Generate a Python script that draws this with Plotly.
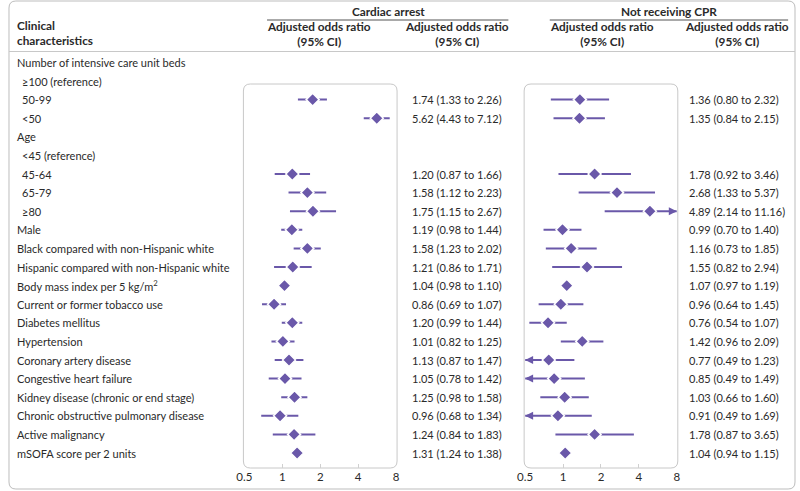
import math
import plotly.graph_objects as go

W, H = 800, 491

labels = ["Number of intensive care unit beds", "≥100 (reference)", "50-99", "<50", "Age",
          "<45 (reference)", "45-64", "65-79", "≥80", "Male",
          "Black compared with non-Hispanic white", "Hispanic compared with non-Hispanic white",
          "Body mass index per 5 kg/m<sup>2</sup>", "Current or former tobacco use",
          "Diabetes mellitus", "Hypertension", "Coronary artery disease",
          "Congestive heart failure", "Kidney disease (chronic or end stage)",
          "Chronic obstructive pulmonary disease", "Active malignancy", "mSOFA score per 2 units"]
indent = [0, 1, 1, 1, 0, 1, 1, 1, 1, 0, 0, 0, 0, 0, 0, 0, 0, 0, 0, 0, 0, 0]

ca_or = [None, None, 1.74, 5.62, None, None, 1.20, 1.58, 1.75, 1.19, 1.58, 1.21, 1.04, 0.86,
         1.20, 1.01, 1.13, 1.05, 1.25, 0.96, 1.24, 1.31]
ca_lo = [None, None, 1.33, 4.43, None, None, 0.87, 1.12, 1.15, 0.98, 1.23, 0.86, 0.98, 0.69,
         0.99, 0.82, 0.87, 0.78, 0.98, 0.68, 0.84, 1.24]
ca_hi = [None, None, 2.26, 7.12, None, None, 1.66, 2.23, 2.67, 1.44, 2.02, 1.71, 1.10, 1.07,
         1.44, 1.25, 1.47, 1.42, 1.58, 1.34, 1.83, 1.38]

cpr_or = [None, None, 1.36, 1.35, None, None, 1.78, 2.68, 4.89, 0.99, 1.16, 1.55, 1.07, 0.96,
          0.76, 1.42, 0.77, 0.85, 1.03, 0.91, 1.78, 1.04]
cpr_lo = [None, None, 0.80, 0.84, None, None, 0.92, 1.33, 2.14, 0.70, 0.73, 0.82, 0.97, 0.64,
          0.54, 0.96, 0.49, 0.49, 0.66, 0.49, 0.87, 0.94]
cpr_hi = [None, None, 2.32, 2.15, None, None, 3.46, 5.37, 11.16, 1.40, 1.85, 2.94, 1.19, 1.45,
          1.07, 2.09, 1.23, 1.49, 1.60, 1.69, 3.65, 1.15]

tick_vals = [0.5, 1, 2, 4, 8]
tick_text = ["0.5", "1", "2", "4", "8"]
x_min, x_max = 0.5, 8

PURPLE = "#6a58a9"
TEXT = "#2a2a2a"
GREY = "#c8c8c8"
FONT = "Lato, 'Open Sans', sans-serif"
FS = 11
FSH = 11.8

# pixel layout helpers
ROW0, ROWH = 62.4, 18.6
BOX_TOP, BOX_BOT = 84, 468


def px(x):
    return x / W


def py(y):
    return 1 - y / H


y_top = -ROW0 / ROWH
y_bot = (BOX_BOT - ROW0) / ROWH

fig = go.Figure()


def add_panel(xa, ors, los, his):
    xs, ys = [], []
    arrows = []
    for i, (o, lo, hi) in enumerate(zip(ors, los, his)):
        if o is None:
            continue
        a, b = max(lo, x_min), min(hi, x_max)
        xs += [a, b, None]
        ys += [i, i, None]
        if lo < x_min:
            arrows.append((x_min, i, 8))
        if hi > x_max:
            arrows.append((x_max, i, -8))
    fig.add_trace(go.Scatter(x=xs, y=ys, mode="lines", xaxis=xa, yaxis="y",
                             line=dict(color=PURPLE, width=2), hoverinfo="skip",
                             showlegend=False, cliponaxis=False))
    pts = [(o, i) for i, o in enumerate(ors) if o is not None]
    fig.add_trace(go.Scatter(x=[p[0] for p in pts], y=[p[1] for p in pts], mode="markers",
                             xaxis=xa, yaxis="y",
                             marker=dict(symbol="diamond", size=10, color=PURPLE,
                                         line=dict(color="white", width=1.5)),
                             showlegend=False, cliponaxis=False))
    for (xv, yv, off) in arrows:
        fig.add_annotation(x=math.log10(xv), y=yv, xref=xa, yref="y", ax=off, ay=0,
                           showarrow=True, arrowhead=2, arrowsize=0.8, arrowwidth=2,
                           arrowcolor=PURPLE, text="")


add_panel("x", ca_or, ca_lo, ca_hi)
add_panel("x2", cpr_or, cpr_lo, cpr_hi)


def rrect(x0, y0, x1, y1, r, color, width):
    X0, X1 = px(x0), px(x1)
    Y0, Y1 = py(y0), py(y1)
    rx, ry = r / W, r / H
    path = (f"M {X0+rx},{Y0} L {X1-rx},{Y0} Q {X1},{Y0} {X1},{Y0-ry} "
            f"L {X1},{Y1+ry} Q {X1},{Y1} {X1-rx},{Y1} L {X0+rx},{Y1} "
            f"Q {X0},{Y1} {X0},{Y1+ry} L {X0},{Y0-ry} Q {X0},{Y0} {X0+rx},{Y0} Z")
    fig.add_shape(type="path", path=path, xref="paper", yref="paper",
                  line=dict(color=color, width=width), layer="below")


# outer frame
rrect(1, 1, 799, 489, 7, "#bdbdbd", 1)
# panel boxes
rrect(239, BOX_TOP, 395, BOX_BOT, 7, GREY, 1)
rrect(524, BOX_TOP, 680, BOX_BOT, 7, GREY, 1)
# reference lines at OR = 1
fig.add_shape(type="line", xref="x", yref="paper", x0=math.log10(1), x1=math.log10(1),
              y0=py(BOX_TOP), y1=py(BOX_BOT), line=dict(color="#d0d0d0", width=2), layer="below")
fig.add_shape(type="line", xref="x2", yref="paper", x0=math.log10(1), x1=math.log10(1),
              y0=py(BOX_TOP), y1=py(BOX_BOT), line=dict(color="#a8a8a8", width=1), layer="below")

# header lines
fig.add_shape(type="line", xref="paper", yref="paper", x0=px(1), x1=px(799), y0=py(51.5), y1=py(51.5),
              line=dict(color="#c8c8c8", width=1))
fig.add_shape(type="line", xref="paper", yref="paper", x0=px(263), x1=px(508), y0=py(20), y1=py(20),
              line=dict(color="#555555", width=1))
fig.add_shape(type="line", xref="paper", yref="paper", x0=px(550), x1=px(792), y0=py(20), y1=py(20),
              line=dict(color="#555555", width=1))


def txt(x, y, s, anchor="left", bold=False, size=FSH):
    if bold:
        s = "<br>".join(f"<b>{part}</b>" for part in s.split("<br>"))
    fig.add_annotation(x=px(x), y=py(y), xref="paper", yref="paper", text=s,
                       showarrow=False, xanchor=anchor, yanchor="middle", align=anchor,
                       font=dict(family=FONT, size=size, color=TEXT))


txt(7, 33, "Clinical<br>characteristics", bold=True)
txt(386, 11, "Cardiac arrest", anchor="center", bold=True)
txt(671, 11, "Not receiving CPR", anchor="center", bold=True)
for cx in (316, 456, 603, 740):
    txt(cx, 33.5, "Adjusted odds ratio<br>(95% CI)", anchor="center", bold=True)

for i, lab in enumerate(labels):
    fig.add_annotation(x=px(7 + 5 * indent[i]), y=i, xref="paper", yref="y", text=lab,
                       showarrow=False, xanchor="left", yanchor="middle",
                       font=dict(family=FONT, size=FS, color=TEXT))
    if ca_or[i] is not None:
        fig.add_annotation(x=px(408), y=i, xref="paper", yref="y",
                           text=f"{ca_or[i]:.2f} ({ca_lo[i]:.2f} to {ca_hi[i]:.2f})",
                           showarrow=False, xanchor="left", yanchor="middle",
                           font=dict(family=FONT, size=FS, color=TEXT))
    if cpr_or[i] is not None:
        fig.add_annotation(x=px(689), y=i, xref="paper", yref="y",
                           text=f"{cpr_or[i]:.2f} ({cpr_lo[i]:.2f} to {cpr_hi[i]:.2f})",
                           showarrow=False, xanchor="left", yanchor="middle",
                           font=dict(family=FONT, size=FS, color=TEXT))

axis_common = dict(type="log", range=[math.log10(x_min), math.log10(x_max)],
                   tickvals=tick_vals, ticktext=tick_text, showgrid=False, zeroline=False,
                   showline=False, ticks="inside", ticklen=4, tickcolor="#d0d0d0",
                   tickfont=dict(family=FONT, size=11.5, color=TEXT), anchor="y", fixedrange=True)

fig.update_layout(
    width=W, height=H, margin=dict(l=0, r=0, t=0, b=0),
    paper_bgcolor="white", plot_bgcolor="rgba(0,0,0,0)",
    xaxis=dict(domain=[px(240), px(394)], **axis_common),
    xaxis2=dict(domain=[px(525), px(679)], **axis_common),
    yaxis=dict(domain=[py(BOX_BOT), 1], range=[y_bot, y_top], visible=False, fixedrange=True),
    showlegend=False,
)

fig.write_html("out.html", config={"displayModeBar": False},
               post_script="document.body.style.margin='0';document.body.style.overflow='hidden';")
